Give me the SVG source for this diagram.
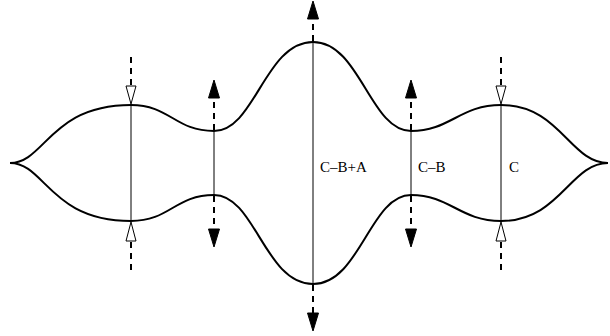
<svg xmlns="http://www.w3.org/2000/svg" width="610" height="336" viewBox="0 0 610 336">
<style>
.outline{fill:none;stroke:#000;stroke-width:2}
.sec{stroke:#000;stroke-width:1;fill:none}
.dash{stroke:#000;stroke-width:2;stroke-dasharray:6,5;fill:none}
.open{fill:#fff;stroke:#000;stroke-width:1}
.solid{fill:#000;stroke:#000;stroke-width:1}
.lbl{font-family:"Liberation Serif","Times New Roman",serif;font-size:15px;fill:#000}
</style>
<rect width="610" height="336" fill="#fff"/>
<g id="outline">
<path class="outline" d="M10,163 C45,163 50,105 131,105 C170,105 175,131 214,131 C255,131 265,42 313,42 C360,42 370,131 411,131 C450,131 460,105 501,105 C560,105 570,163 608,163"/>
<path class="outline" d="M10,163 C45,163 50,221 131,221 C170,221 175,195 214,195 C255,195 265,284 313,284 C360,284 370,195 411,195 C450,195 460,221 501,221 C560,221 570,163 608,163"/>
</g>
<g id="sections">
<line class="sec" x1="131" y1="105" x2="131" y2="221"/>
<line class="sec" x1="214" y1="131" x2="214" y2="195"/>
<line class="sec" x1="313" y1="42" x2="313" y2="284"/>
<line class="sec" x1="411" y1="131" x2="411" y2="195"/>
<line class="sec" x1="501" y1="105" x2="501" y2="221"/>
</g>
<g id="connectors">
<line class="dash" x1="131" y1="57" x2="131" y2="86"/>
<polygon class="open" points="131,104 126,86 136,86"/>
<line class="dash" x1="131" y1="242" x2="131" y2="270"/>
<polygon class="open" points="131,222 126,241 136,241"/>
<line class="dash" x1="501" y1="57" x2="501" y2="86"/>
<polygon class="open" points="501,104 496,86 506,86"/>
<line class="dash" x1="501" y1="242" x2="501" y2="270"/>
<polygon class="open" points="501,222 496,241 506,241"/>
<line class="dash" x1="214" y1="130" x2="214" y2="97"/>
<polygon class="solid" points="214,80 208.5,98 219.5,98"/>
<line class="dash" x1="214" y1="196" x2="214" y2="229"/>
<polygon class="solid" points="214,247 208.5,229 219.5,229"/>
<line class="dash" x1="411" y1="130" x2="411" y2="97"/>
<polygon class="solid" points="411,80 405.5,98 416.5,98"/>
<line class="dash" x1="411" y1="196" x2="411" y2="229"/>
<polygon class="solid" points="411,247 405.5,229 416.5,229"/>
<line class="dash" x1="313" y1="41" x2="313" y2="18"/>
<polygon class="solid" points="313,1 307.5,19 318.5,19"/>
<line class="dash" x1="313" y1="285" x2="313" y2="313"/>
<polygon class="solid" points="313,331 307.5,313 318.5,313"/>
</g>
<g id="labels">
<text class="lbl" x="320" y="172">C–B+A</text>
<text class="lbl" x="418" y="172">C–B</text>
<text class="lbl" x="509" y="172">C</text>
</g>
</svg>
